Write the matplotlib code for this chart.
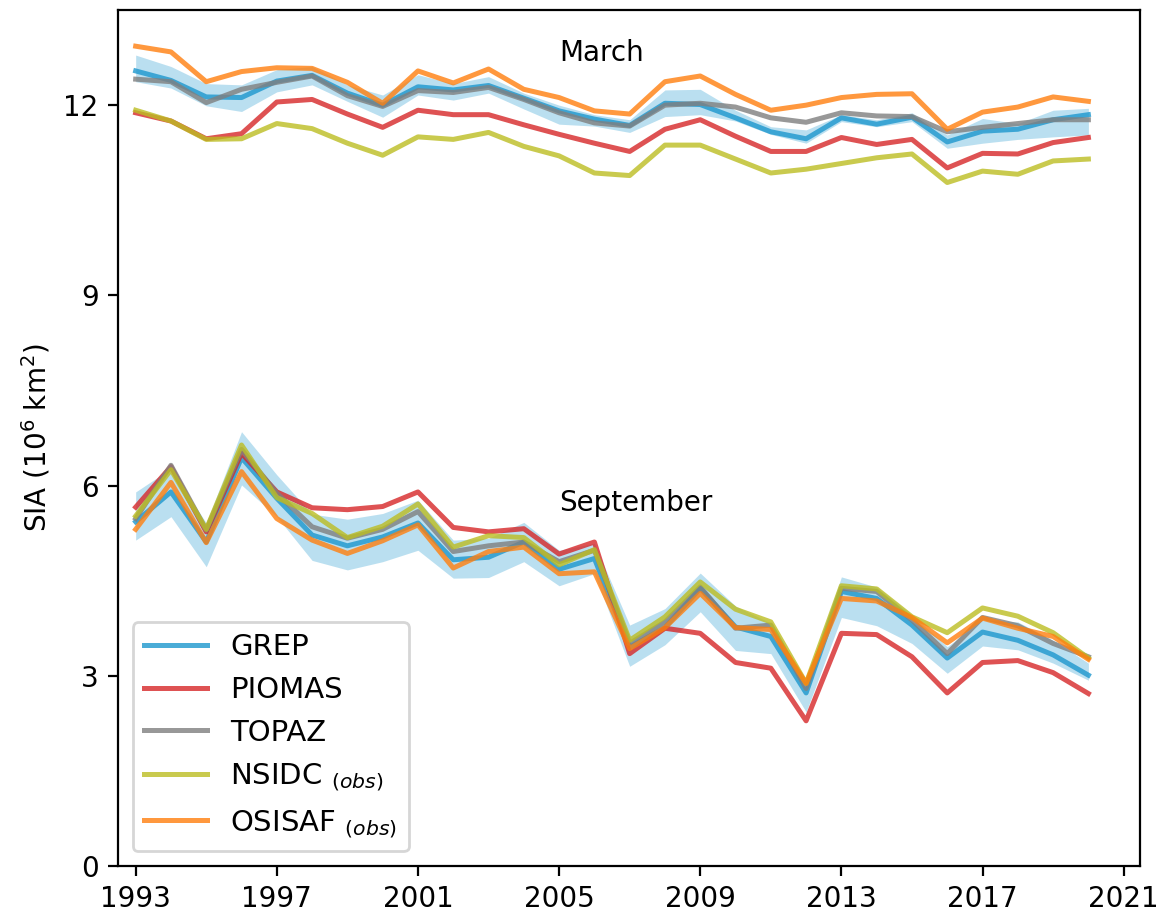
import numpy as np
import matplotlib
matplotlib.use("Agg")
import matplotlib.pyplot as plt

years = list(range(1993, 2021))

# March SIA (10^6 km^2)
mar_grep = [12.54,12.39,12.13,12.12,12.38,12.47,12.19,12.00,12.29,12.24,12.31,12.11,11.91,11.78,11.68,12.03,12.01,11.80,11.58,11.47,11.80,11.70,11.81,11.42,11.59,11.62,11.77,11.85]
mar_grep_hi = [12.79,12.61,12.34,12.32,12.56,12.61,12.32,12.16,12.48,12.34,12.45,12.19,12.00,11.85,11.77,12.24,12.25,11.92,11.66,11.61,11.85,11.77,11.88,11.53,11.79,11.71,11.92,11.95]
mar_grep_lo = [12.37,12.27,11.99,11.90,12.21,12.32,12.06,11.81,12.16,12.08,12.19,11.94,11.70,11.67,11.57,11.82,11.85,11.75,11.54,11.40,11.74,11.66,11.74,11.32,11.40,11.46,11.50,11.53]
mar_piomas = [11.88,11.75,11.47,11.55,12.05,12.09,11.86,11.65,11.92,11.85,11.85,11.69,11.54,11.40,11.27,11.62,11.77,11.51,11.27,11.27,11.49,11.38,11.46,11.01,11.24,11.23,11.41,11.49]
mar_topaz = [12.41,12.37,12.04,12.25,12.36,12.46,12.15,11.98,12.23,12.20,12.28,12.09,11.88,11.72,11.67,12.00,12.03,11.97,11.80,11.73,11.88,11.83,11.82,11.58,11.65,11.71,11.77,11.77]
mar_nsidc = [11.92,11.75,11.46,11.47,11.71,11.63,11.40,11.21,11.50,11.46,11.57,11.35,11.20,10.93,10.89,11.37,11.37,11.15,10.93,10.99,11.08,11.17,11.23,10.78,10.96,10.91,11.12,11.15]
mar_osisaf = [12.93,12.84,12.37,12.53,12.59,12.58,12.36,12.03,12.54,12.35,12.57,12.25,12.12,11.91,11.86,12.37,12.46,12.17,11.92,12.00,12.12,12.17,12.18,11.62,11.89,11.97,12.13,12.06]

# September SIA (10^6 km^2)
sep_grep = [5.43,5.90,5.11,6.44,5.80,5.22,5.05,5.19,5.41,4.83,4.87,5.11,4.68,4.85,3.45,3.76,4.38,3.77,3.62,2.73,4.33,4.22,3.80,3.28,3.69,3.56,3.33,3.01]
sep_grep_hi = [5.90,6.27,5.41,6.85,6.17,5.55,5.47,5.56,5.77,5.14,5.17,5.42,4.98,5.09,3.80,4.06,4.62,4.10,3.83,2.93,4.56,4.40,3.96,3.46,3.88,3.85,3.56,3.20]
sep_grep_lo = [5.14,5.51,4.72,6.01,5.51,4.82,4.67,4.80,4.98,4.54,4.55,4.80,4.42,4.61,3.15,3.49,4.01,3.40,3.35,2.43,3.92,3.79,3.51,3.04,3.47,3.41,3.20,2.93]
sep_piomas = [5.66,6.30,5.27,6.51,5.90,5.65,5.62,5.67,5.90,5.34,5.27,5.32,4.92,5.11,3.35,3.75,3.67,3.21,3.12,2.29,3.67,3.65,3.30,2.73,3.21,3.24,3.05,2.72]
sep_topaz = [5.48,6.32,5.30,6.57,5.88,5.35,5.17,5.31,5.59,4.96,5.05,5.11,4.80,4.98,3.51,3.85,4.40,3.75,3.80,2.80,4.38,4.33,3.88,3.35,3.92,3.79,3.51,3.30]
sep_nsidc = [5.52,6.25,5.31,6.64,5.81,5.56,5.18,5.36,5.71,5.03,5.21,5.18,4.75,4.99,3.56,3.93,4.48,4.05,3.85,2.88,4.42,4.37,3.93,3.68,4.07,3.94,3.68,3.28]
sep_osisaf = [5.31,6.05,5.10,6.22,5.48,5.14,4.93,5.13,5.38,4.70,4.96,5.03,4.61,4.64,3.43,3.76,4.30,3.76,3.73,2.88,4.22,4.18,3.92,3.52,3.91,3.75,3.62,3.26]

labels = ["GREP", "PIOMAS", "TOPAZ", r"NSIDC $_{(obs)}$", r"OSISAF $_{(obs)}$"]
colors = ["#1d97ce", "tab:red", "tab:gray", "tab:olive", "tab:orange"]
tick_years = list(range(1993, 2022, 4))
yticks = [0, 3, 6, 9, 12]

fig = plt.figure(figsize=(5.82, 4.57), dpi=200)
ax = fig.add_axes([0.1014, 0.0525, 0.8776, 0.9365])

lw = 1.8
ax.fill_between(years, mar_grep_lo, mar_grep_hi, color=colors[0], alpha=0.3, lw=0)
ax.fill_between(years, sep_grep_lo, sep_grep_hi, color=colors[0], alpha=0.3, lw=0)

mar = [mar_grep, mar_piomas, mar_topaz, mar_nsidc, mar_osisaf]
sep = [sep_grep, sep_piomas, sep_topaz, sep_nsidc, sep_osisaf]
for m, s, c, lab in zip(mar, sep, colors, labels):
    ax.plot(years, m, color=c, lw=lw, alpha=0.8, label=lab)
    ax.plot(years, s, color=c, lw=lw, alpha=0.8)

ax.text(2005, 12.7, "March", fontsize=10)
ax.text(2005, 5.6, "September", fontsize=10)

ax.set_xlim(1992.5, 2021.45)
ax.set_ylim(0, 13.5)
ax.set_xticks(tick_years)
ax.set_yticks(yticks)
ax.set_ylabel(r"SIA (10$^6$ km$^2$)", fontsize=10)
ax.tick_params(labelsize=10)
ax.legend(loc="lower left", fontsize=10.5, handlelength=2.15)

fig.savefig("out.png", dpi=200)
